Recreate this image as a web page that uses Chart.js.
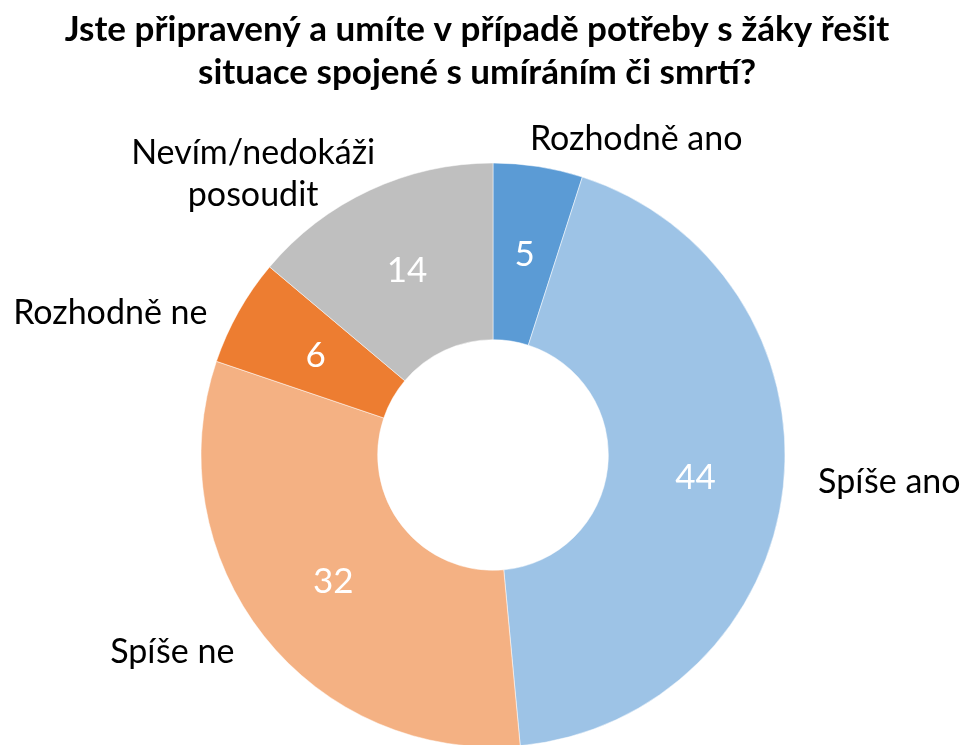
<!DOCTYPE html>
<html>
<head>
<meta charset="utf-8">
<script src="https://cdn.jsdelivr.net/npm/chart.js"></script>
<style>
  html, body { margin: 0; padding: 0; background: #fff; }
  #wrap { width: 965px; height: 745px; position: relative; }
</style>
</head>
<body>
<div id="wrap"><canvas id="chart" width="965" height="745"></canvas></div>
<script>
const titleLines = ["Jste připravený a umíte v případě potřeby s žáky řešit", "situace spojené s umíráním či smrtí?"];
const categories = ["Rozhodně ano", "Spíše ano", "Spíše ne", "Rozhodně ne", "Nevím/nedokáži posoudit"];
const labelLines = [["Rozhodně ano"], ["Spíše ano"], ["Spíše ne"], ["Rozhodně ne"], ["Nevím/nedokáži", "posoudit"]];
const values = [5, 44, 32, 6, 14];
const colors = ["#5B9BD5", "#9DC3E6", "#F4B183", "#ED7D31", "#BFBFBF"];

const FONT = "Lato, 'Open Sans', sans-serif";
// small per-label nudges (px) on top of the radial anchor, to mimic Excel's placement
const labelNudge = [[-13, 1], [5, -9], [-6, -4], [-5, 15], [18, 10]];

const labelsPlugin = {
  id: "sliceLabels",
  afterDatasetsDraw(chart) {
    const ctx = chart.ctx;
    const meta = chart.getDatasetMeta(0);
    ctx.save();
    meta.data.forEach((arc, i) => {
      // value inside the ring
      const p = arc.tooltipPosition();
      ctx.fillStyle = "#fff";
      ctx.font = "35px " + FONT;
      ctx.textAlign = "center";
      ctx.textBaseline = "alphabetic";
      ctx.fillText(String(values[i]), p.x, p.y + 12);

      // category outside the ring
      const mid = (arc.startAngle + arc.endAngle) / 2;
      const r = arc.outerRadius + 30;
      const right = Math.cos(mid) >= 0;
      const ax = arc.x + Math.cos(mid) * r + labelNudge[i][0];
      const ay = arc.y + Math.sin(mid) * r + labelNudge[i][1];
      const lines = labelLines[i];
      const lh = 42;
      ctx.fillStyle = "#000";
      ctx.font = "34px " + FONT;
      const w = Math.max(...lines.map((s) => ctx.measureText(s).width));
      ctx.textAlign = "center";
      const cx = right ? ax + w / 2 : ax - w / 2;
      lines.forEach((t, k) => {
        const y = ay + (k - (lines.length - 1) / 2) * lh + 12;
        ctx.fillText(t, cx, y);
      });
    });

    // title
    ctx.fillStyle = "#000";
    ctx.font = "bold 35px " + FONT;
    ctx.textAlign = "center";
    ctx.textBaseline = "alphabetic";
    ctx.fillText(titleLines[0], 477, 41);
    ctx.fillText(titleLines[1], 477, 84);
    ctx.restore();
  },
};

new Chart(document.getElementById("chart"), {
  type: "doughnut",
  data: {
    labels: categories,
    datasets: [
      {
        data: values,
        backgroundColor: colors,
        borderColor: "#fff",
        borderWidth: 0.5,
        radius: 292,
        cutout: "39.5%",
      },
    ],
  },
  options: {
    responsive: false,
    animation: false,
    layout: { padding: { left: 201, right: 180, top: 165, bottom: 0 } },
    plugins: {
      legend: { display: false },
      tooltip: { enabled: false },
      title: { display: false },
    },
  },
  plugins: [labelsPlugin],
});
</script>
</body>
</html>
